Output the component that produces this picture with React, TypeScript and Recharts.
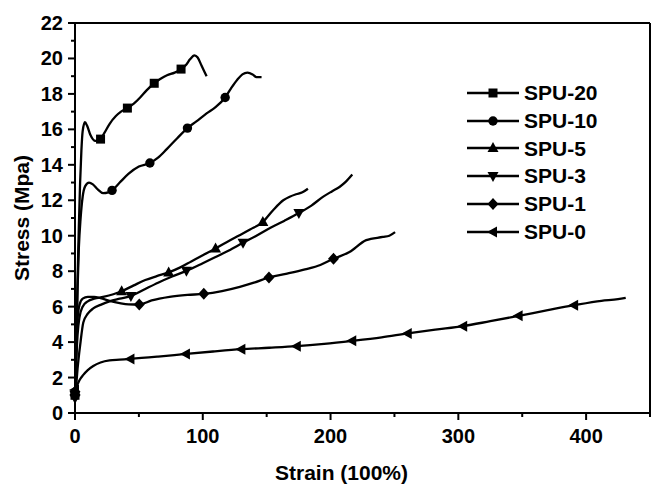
import React from "react";
import { LineChart, Line, XAxis, YAxis, ReferenceLine, Legend, Label } from "recharts";

// [strain, stress] pairs
const spu20: [number, number][] = [
  [0, 1.0], [1, 4.0], [2, 7.5], [3, 10.5], [4, 13.0], [5, 14.8], [6, 15.9], [7.8, 16.4],
  [9.5, 16.2], [12, 15.7], [16, 15.35], [20, 15.45], [23, 15.8], [27, 16.3], [32, 16.75],
  [36, 17.0], [41, 17.2], [46, 17.45], [51, 17.8], [56, 18.2], [62, 18.6], [67, 18.85],
  [72, 19.05], [78, 19.2], [83, 19.4], [87, 19.65], [90, 19.95], [93.5, 20.17], [96, 20.05],
  [99, 19.6], [103, 19.0],
];
const spu20Marks = [0, 20, 41, 62, 83];

const spu10: [number, number][] = [
  [0, 1.0], [1, 3.5], [2, 7.0], [3, 9.3], [4.4, 11.0], [6, 12.2], [8, 12.8], [11, 13.0],
  [14, 12.9], [18, 12.6], [22, 12.4], [26, 12.45], [29, 12.56], [35, 13.0], [42, 13.5],
  [50, 13.9], [58.6, 14.1], [65, 14.4], [72, 14.9], [80, 15.5], [88, 16.07], [95, 16.45],
  [103, 16.9], [110, 17.25], [117.5, 17.8], [122, 18.3], [127, 18.8], [131, 19.1],
  [135, 19.2], [139, 19.1], [142, 18.95], [146, 18.95],
];
const spu10Marks = [0, 29, 58.6, 88, 117.5];

const spu5: [number, number][] = [
  [0, 1.2], [1, 3.0], [2, 4.4], [3.5, 5.4], [6, 6.0], [10, 6.3], [15, 6.45], [22, 6.55],
  [30, 6.7], [36.5, 6.87], [46, 7.2], [55, 7.5], [64, 7.72], [73.3, 7.93], [82, 8.2],
  [91, 8.55], [100, 8.9], [110, 9.28], [119, 9.65], [128, 10.0], [137, 10.35], [147, 10.78],
  [155, 11.44], [163, 12.0], [168, 12.2], [173, 12.34], [178, 12.45], [182.3, 12.65],
];
const spu5Marks = [0, 36.5, 73.3, 110, 147];

const spu3: [number, number][] = [
  [0, 0.85], [1, 1.6], [2, 2.5], [3, 3.2], [4, 3.8], [6.5, 5.1], [10, 5.6], [14.3, 5.9],
  [20, 6.1], [27, 6.3], [35, 6.45], [43.75, 6.6], [55, 7.0], [65, 7.35], [76, 7.7],
  [87.2, 8.02], [100, 8.45], [110, 8.8], [120, 9.15], [131.5, 9.6], [142, 10.0],
  [153, 10.45], [164, 10.85], [175.2, 11.28], [185, 11.7], [194, 12.19], [201, 12.5],
  [207, 12.75], [212, 13.05], [217, 13.45],
];
const spu3Marks = [0, 43.75, 87.2, 131.5, 175.2];

const spu1: [number, number][] = [
  [0, 1.2], [1, 3.8], [2, 5.3], [3.5, 6.1], [6, 6.45], [10, 6.55], [15, 6.55], [20, 6.48],
  [27, 6.33], [35, 6.2], [42, 6.13], [50.3, 6.12], [60, 6.35], [74, 6.55], [88, 6.66],
  [100.8, 6.72], [115, 6.88], [129, 7.12], [140, 7.35], [151.8, 7.65], [165, 7.85],
  [180, 8.1], [192, 8.35], [202.3, 8.7], [214.8, 9.08], [227.9, 9.75], [240.9, 9.93],
  [246, 10.0], [250.5, 10.2],
];
const spu1Marks = [0, 50.3, 100.8, 151.8, 202.3];

const spu0: [number, number][] = [
  [0, 1.3], [1.3, 1.5], [3.5, 1.85], [6.5, 2.15], [10, 2.42], [14.3, 2.65], [20, 2.85],
  [27, 2.97], [35, 3.01], [43.4, 3.05], [65, 3.18], [86.8, 3.33], [108, 3.47], [130.2, 3.6],
  [152, 3.68], [173.6, 3.77], [195, 3.9], [217, 4.07], [240, 4.27], [260.4, 4.49],
  [282, 4.7], [303.8, 4.9], [325, 5.18], [347.2, 5.48], [370, 5.8], [390.6, 6.08],
  [412, 6.33], [425, 6.42], [431, 6.5],
];
const spu0Marks = [0, 43.4, 86.8, 130.2, 173.6, 217, 260.4, 303.8, 347.2, 390.6];

const strainTicks = [0, 50, 100, 150, 200, 250, 300, 350, 400, 450];
const stressTicks = [0, 1, 2, 3, 4, 5, 6, 7, 8, 9, 10, 11, 12, 13, 14, 15, 16, 17, 18, 19, 20, 21, 22];

const FONT = "'Liberation Sans', Arial, Helvetica, sans-serif";

const series = [
  { name: "SPU-20", points: spu20, marks: spu20Marks, shape: "square" },
  { name: "SPU-10", points: spu10, marks: spu10Marks, shape: "circle" },
  { name: "SPU-5", points: spu5, marks: spu5Marks, shape: "up" },
  { name: "SPU-3", points: spu3, marks: spu3Marks, shape: "down" },
  { name: "SPU-1", points: spu1, marks: spu1Marks, shape: "diamond" },
  { name: "SPU-0", points: spu0, marks: spu0Marks, shape: "left" },
];

const toData = (points: [number, number][], marks: number[]) =>
  points.map(([x, y]) => ({ strain: x, stress: y, mark: marks.includes(x) }));

const Marker = ({ shape, cx, cy }: { shape: string; cx: number; cy: number }) => {
  switch (shape) {
    case "square":
      return <rect x={cx - 4.5} y={cy - 4.5} width={9} height={9} fill="#000" />;
    case "circle":
      return <circle cx={cx} cy={cy} r={4.7} fill="#000" />;
    case "up":
      return <path d={`M${cx},${cy - 6} L${cx + 5.5},${cy + 4} L${cx - 5.5},${cy + 4} Z`} fill="#000" />;
    case "down":
      return <path d={`M${cx},${cy + 6} L${cx + 5.5},${cy - 4} L${cx - 5.5},${cy - 4} Z`} fill="#000" />;
    case "diamond":
      return <path d={`M${cx},${cy - 6} L${cx + 5.5},${cy} L${cx},${cy + 6} L${cx - 5.5},${cy} Z`} fill="#000" />;
    default:
      return <path d={`M${cx - 6},${cy} L${cx + 4},${cy - 5.5} L${cx + 4},${cy + 5.5} Z`} fill="#000" />;
  }
};

const renderDot = (shape: string) => (props: any) => {
  const { cx, cy, payload, index } = props;
  if (!payload || !payload.mark) return <g key={`d-${index}`} />;
  return (
    <g key={`d-${index}`}>
      <Marker shape={shape} cx={cx} cy={cy} />
    </g>
  );
};

const StrainTick = (props: any) => {
  const { x, y, payload } = props;
  const major = payload.value % 100 === 0;
  return (
    <g>
      <line x1={x} y1={y} x2={x} y2={y + (major ? 7 : 4)} stroke="#000" strokeWidth={2} />
      {major && (
        <text x={x} y={y + 30} textAnchor="middle" fontSize={20} fontWeight="bold" fill="#000" fontFamily={FONT}>
          {payload.value}
        </text>
      )}
    </g>
  );
};

const StressTick = (props: any) => {
  const { x, y, payload } = props;
  const major = payload.value % 2 === 0;
  return (
    <g>
      <line x1={x} y1={y} x2={x - (major ? 7 : 4)} y2={y} stroke="#000" strokeWidth={2} />
      {major && (
        <text x={x - 12} y={y + 7} textAnchor="end" fontSize={20} fontWeight="bold" fill="#000" fontFamily={FONT}>
          {payload.value}
        </text>
      )}
    </g>
  );
};

const LegendBox = () => (
  <div style={{ fontFamily: FONT, fontWeight: "bold", fontSize: 21, color: "#000" }}>
    {series.map((s) => (
      <div key={s.name} style={{ display: "flex", alignItems: "center", height: 27.8 }}>
        <svg width={52} height={14} style={{ display: "block" }}>
          <line x1={0} y1={7} x2={52} y2={7} stroke="#000" strokeWidth={2.3} />
          <Marker shape={s.shape} cx={26} cy={7} />
        </svg>
        <span style={{ marginLeft: 5, lineHeight: "27.8px" }}>{s.name}</span>
      </div>
    ))}
  </div>
);

export default function App() {
  return (
    <div style={{ position: "absolute", left: 0, top: 0, width: 652, height: 484, background: "#fff" }}>
      <LineChart width={652} height={484} margin={{ top: 23, right: 2, bottom: 0, left: 0 }}>
        <XAxis
          type="number"
          dataKey="strain"
          domain={[0, 450]}
          ticks={strainTicks}
          interval={0}
          tickSize={0}
          tickMargin={0}
          tickLine={false}
          axisLine={{ stroke: "#000", strokeWidth: 2 }}
          tick={<StrainTick />}
          height={71}
        >
          <Label
            content={(p: any) => {
              const vb = p.viewBox;
              return (
                <text x={vb.x + vb.width / 2 - 21} y={480} textAnchor="middle" fontSize={21} fontWeight="bold" fill="#000" fontFamily={FONT}>
                  Strain (100%)
                </text>
              );
            }}
          />
        </XAxis>
        <YAxis
          type="number"
          domain={[0, 22]}
          ticks={stressTicks}
          interval={0}
          tickSize={0}
          tickMargin={0}
          tickLine={false}
          axisLine={{ stroke: "#000", strokeWidth: 2 }}
          tick={<StressTick />}
          width={75}
        >
          <Label
            content={(p: any) => {
              const vb = p.viewBox;
              const cy = vb.y + vb.height / 2;
              return (
                <text x={29} y={cy} transform={`rotate(-90, 29, ${cy})`} textAnchor="middle" fontSize={21} fontWeight="bold" fill="#000" fontFamily={FONT}>
                  Stress (Mpa)
                </text>
              );
            }}
          />
        </YAxis>
        <ReferenceLine y={22} stroke="#000" strokeWidth={2} />
        <ReferenceLine x={450} stroke="#000" strokeWidth={2} />
        {series.map((s) => (
          <Line
            key={s.name}
            name={s.name}
            data={toData(s.points, s.marks)}
            dataKey="stress"
            type="monotone"
            stroke="#000"
            strokeWidth={2.3}
            dot={renderDot(s.shape)}
            activeDot={false}
            isAnimationActive={false}
          />
        ))}
        <Legend
          layout="vertical"
          align="center"
          verticalAlign="middle"
          wrapperStyle={{ left: 467, top: 79, width: 180 }}
          content={() => <LegendBox />}
        />
      </LineChart>
    </div>
  );
}
